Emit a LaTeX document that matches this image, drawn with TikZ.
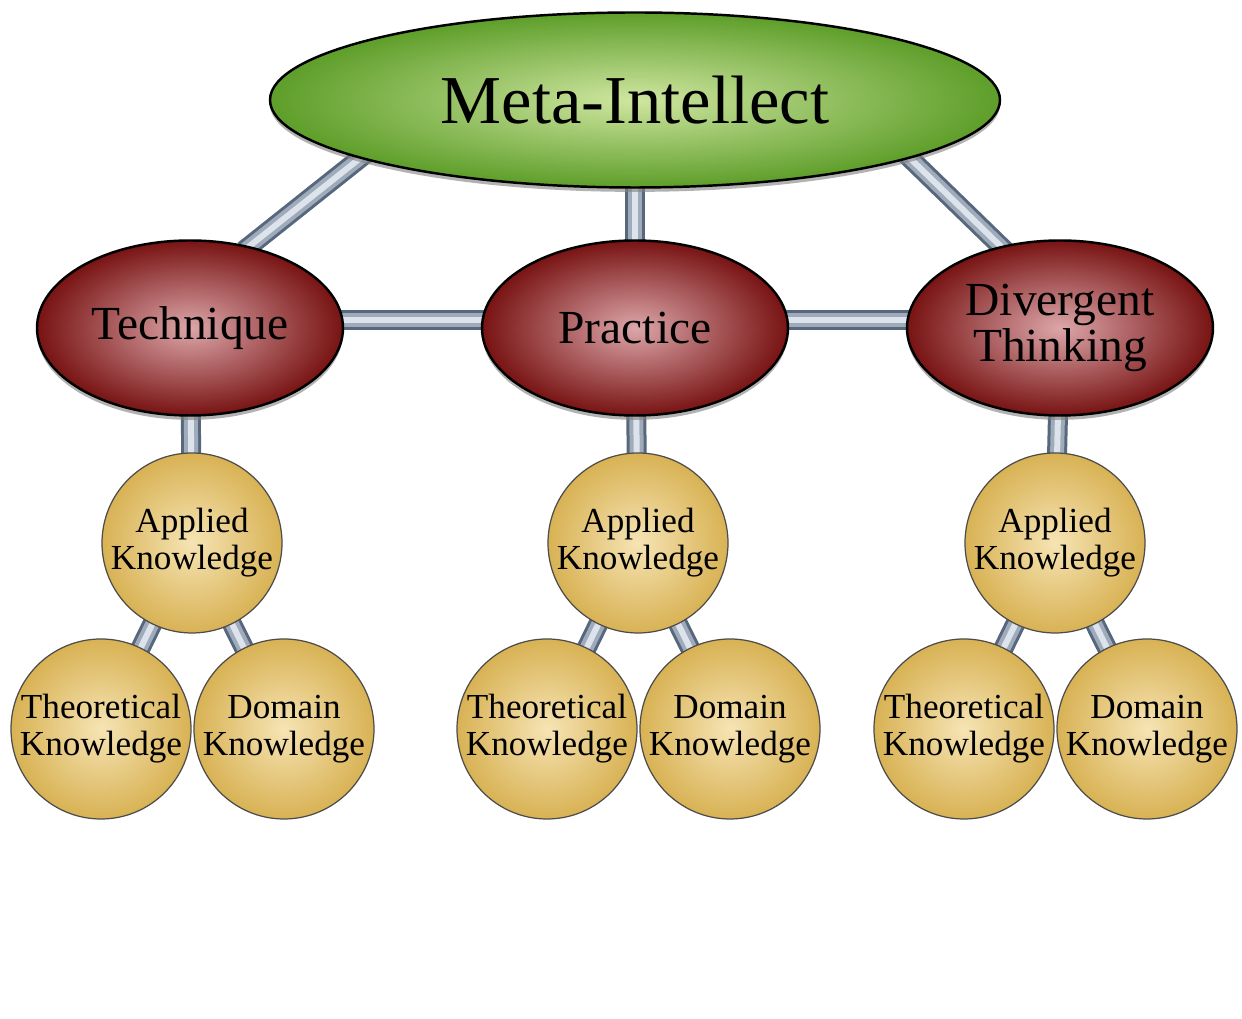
\documentclass[tikz,border=0pt]{standalone}
\usepackage{fontspec}
\setmainfont{Liberation Serif}
\usetikzlibrary{positioning,shapes.geometric,shadows,backgrounds}
\definecolor{metagreen}{HTML}{5E9E2A}
\definecolor{metalight}{HTML}{CFE6A0}
\definecolor{wine}{HTML}{781313}
\definecolor{winelight}{HTML}{DCA6A9}
\definecolor{gold}{HTML}{D8B254}
\definecolor{goldlight}{HTML}{F6E4B4}
\definecolor{steel}{HTML}{56677E}
\definecolor{steellight}{HTML}{DCE3EC}

\begin{document}
\begin{tikzpicture}[
 metanode/.style={ellipse,draw=black,line width=1.4pt,shading=radial,inner color=metalight,outer color=metagreen,minimum width=14.6cm,minimum height=3.5cm,inner sep=0pt,font=\fontsize{39}{39}\selectfont,drop shadow={shadow xshift=0pt,shadow yshift=-2.5pt,opacity=0.6}},
 skill/.style={ellipse,draw=black,line width=1.4pt,shading=radial,inner color=winelight,outer color=wine,minimum width=6.12cm,minimum height=3.5cm,inner sep=0pt,align=center,font=\fontsize{27}{26}\selectfont,drop shadow={shadow xshift=0pt,shadow yshift=-2.5pt,opacity=0.6}},
 know/.style={circle,draw=black!70,line width=0.7pt,shading=radial,inner color=goldlight,outer color=gold,minimum size=3.6cm,inner sep=0pt,align=center,font=\fontsize{20}{21}\selectfont},
 tube/.style={draw=steel,line width=0.4cm,shorten <=-4pt,shorten >=-4pt,
  postaction={draw=steel!45!steellight,line width=0.28cm},
  postaction={draw=steellight,line width=0.12cm}}]
\useasboundingbox (0,0) rectangle (24.84,20.38);
\node[metanode] (meta) at (12.7,18.38) {Meta-Intellect};
\node[skill] (tech) at (3.8,13.82) {Technique};
\node[skill] (prac) at (12.7,13.82) {Practice};
\node[skill] (divt) at (21.2,13.82) {Divergent\\Thinking};
\foreach \i/\x in {1/3.84,2/12.76,3/21.1} {
 \node[know] (app\i) at (\x,9.52) {Applied\\Knowledge};
 \node[know] (theo\i) at (\x-1.82,5.8) {Theoretical\\Knowledge};
 \node[know] (dom\i) at (\x+1.84,5.8) {Domain\\Knowledge};
}
\begin{scope}[on background layer]
\fill[white] (0,0) rectangle (24.84,20.38);
\draw[tube] (meta.192) -- (tech.54);
\draw[tube] (meta) -- (prac);
\draw[tube] (meta.348) -- (divt.126);
\draw[tube] (tech.3) -- (prac.177);
\draw[tube] (prac.3) -- (divt.177);
\foreach \i/\p in {1/tech,2/prac,3/divt} {
 \draw[tube] (\p) -- (app\i);
 \draw[tube] (app\i) -- (theo\i);
 \draw[tube] (app\i) -- (dom\i);
}
\end{scope}
\end{tikzpicture}
\end{document}
